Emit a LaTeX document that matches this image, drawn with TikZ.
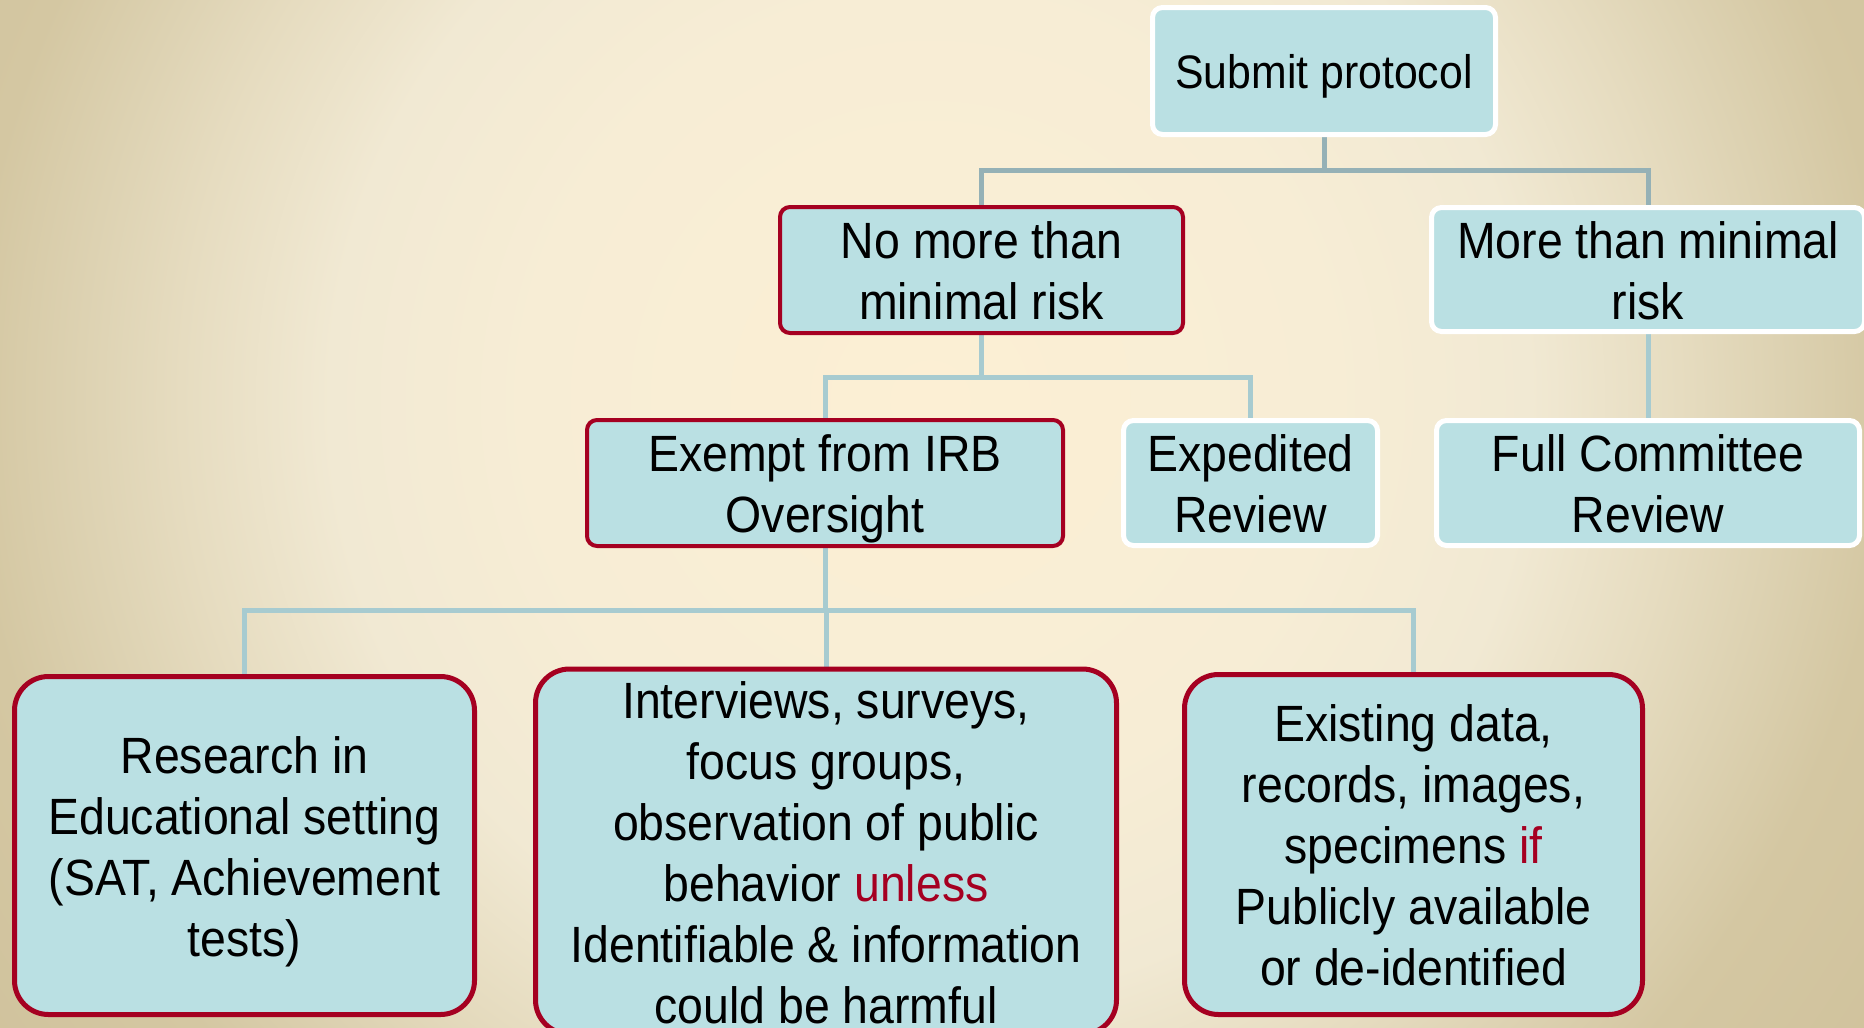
\documentclass[tikz,border=0pt]{standalone}
\usepackage{fontspec}
\setmainfont{Liberation Sans}[FakeStretch=0.91]

\definecolor{boxfill}{HTML}{BAE0E3}
\definecolor{boxred}{HTML}{A50021}
\definecolor{linkdark}{HTML}{95B1B6}
\definecolor{linklight}{HTML}{A7CBD0}
\definecolor{bgA}{HTML}{FCEFD4}
\definecolor{bgB}{HTML}{F7EDD5}
\definecolor{bgC}{HTML}{F1E9D3}
\definecolor{bgD}{HTML}{E6DCC0}
\definecolor{bgE}{HTML}{DDD2B2}
\definecolor{bgF}{HTML}{D4C7A2}
\definecolor{bgG}{HTML}{CFC19B}

% warm glow behind the chart
\pgfdeclareradialshading{bgglow}{\pgfpoint{0bp}{0bp}}{%
  color(0bp)=(bgA); color(8.33bp)=(bgB); color(12.5bp)=(bgC);
  color(15.6bp)=(bgD); color(17.7bp)=(bgE); color(20bp)=(bgF);
  color(25bp)=(bgG); color(50bp)=(bgG)}

\newcommand\nodefont{\fontsize{25.5pt}{30.5pt}\selectfont}
\newcommand\headfont{\fontsize{23.5pt}{28pt}\selectfont}
% struts: a tall first line and a fixed last-line depth, so every text
% block sits at the same height in its box
\newcommand\firstline{\rule{0pt}{24.6pt}}
\newcommand\lastline{\rule[-5.4pt]{0pt}{5.4pt}}

\pgfdeclarelayer{bg}
\pgfdeclarelayer{links}
\pgfsetlayers{bg,links,main}

\tikzset{
  box/.style={rounded corners=5pt, fill=boxfill, inner sep=0pt,
              align=center, font=\nodefont},
  redline/.style={draw=boxred, line width=2pt},
  whiteline/.style={draw=white, line width=2.5pt},
  bigbox/.style={box, rounded corners=17pt, draw=boxred, line width=2.5pt},
  toplink/.style={draw=linkdark, line width=2.5pt},
  link/.style={draw=linklight, line width=2.5pt},
}

\begin{document}
\begin{tikzpicture}[x=0.5pt,y=-0.5pt]
\useasboundingbox (0,0) rectangle (1864,1028);

\begin{pgfonlayer}{bg}
  \begin{scope}
    \clip (0,0) rectangle (1864,1028);
    \shade[shading=bgglow] (930,400) circle[radius=1200];
  \end{scope}
\end{pgfonlayer}

% level 1
\node[box, whiteline, minimum width=171.5pt, minimum height=63.5pt, font=\headfont]
  (submit) at (1324,71) {\rule{0pt}{23.2pt}Submit protocol\lastline};

% level 2
\node[box, redline, minimum width=201.5pt, minimum height=63pt]
  (nomore) at (981.5,270) {\firstline No more than\\minimal risk\lastline};
\node[box, whiteline, minimum width=216.5pt, minimum height=62pt]
  (more) at (1648,269.5) {\firstline More than minimal\\risk\lastline};

% level 3
\node[box, redline, minimum width=238pt, minimum height=63pt]
  (exempt) at (825,483) {\firstline Exempt from IRB\\Oversight\lastline};
\node[box, whiteline, minimum width=127pt, minimum height=62.5pt]
  (expedited) at (1250.5,483) {\firstline Expedited\\Review\lastline};
\node[box, whiteline, minimum width=211.5pt, minimum height=62.5pt]
  (full) at (1648,483) {\firstline Full Committee\\Review\lastline};

% level 4: exempt categories
\node[bigbox, minimum width=230pt, minimum height=169pt]
  (research) at (244.5,845.5)
  {\firstline Research in\\Educational setting\\(SAT, Achievement\\tests)\lastline};
\node[bigbox, minimum width=290.5pt, minimum height=180pt]
  (interviews) at (826,851.5)
  {\firstline Interviews, surveys,\\focus groups,\\observation of public\\behavior \textcolor{boxred}{unless}\\Identifiable \& information\\could be harmful\lastline};
\node[bigbox, minimum width=229pt, minimum height=170pt]
  (existing) at (1413.5,844.5)
  {\firstline Existing data,\\records, images,\\specimens \textcolor{boxred}{if}\\Publicly available\\or de-identified\lastline};

% bus levels of the tree
\coordinate (bus1) at (0,170);
\coordinate (bus2) at (0,377);
\coordinate (bus3) at (0,610);

\begin{pgfonlayer}{links}
  \draw[toplink] (submit.south) -- (submit.south |- bus1);
  \draw[toplink] (nomore.north) |- (more.north |- bus1) -- (more.north);
  \draw[link] (nomore.south) -- (nomore.south |- bus2);
  \draw[link] (exempt.north) |- (expedited.north |- bus2) -- (expedited.north);
  \draw[link] (more.south) -- (full.north);
  \draw[link] (exempt.south) -- (exempt.south |- bus3);
  \draw[link] (research.north) |- (existing.north |- bus3) -- (existing.north);
  \draw[link] (interviews.north |- bus3) -- (interviews.north);
\end{pgfonlayer}
\end{tikzpicture}
\end{document}
